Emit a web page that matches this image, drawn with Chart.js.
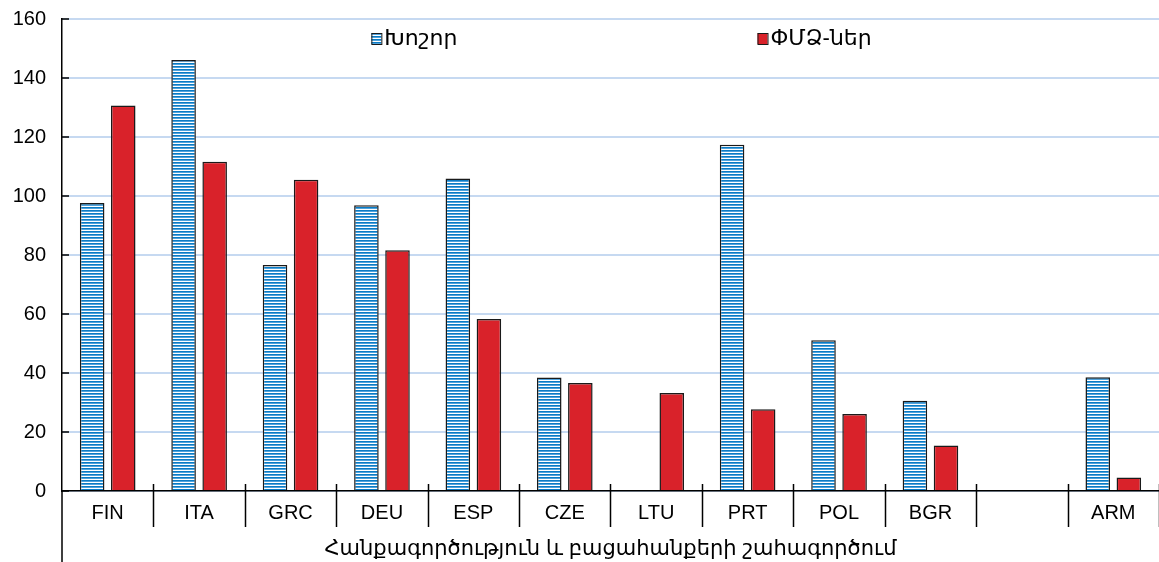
<!DOCTYPE html>
<html>
<head>
<meta charset="utf-8">
<script src="https://cdn.jsdelivr.net/npm/chart.js@4.4.1/dist/chart.umd.min.js"></script>
<style>
  html, body { margin: 0; padding: 0; background: #fff; }
  #wrap { width: 1159px; height: 562px; position: relative; }
</style>
</head>
<body>
<div id="wrap"><canvas id="chart"></canvas></div>
<script>
// Data
const categories = ['FIN', 'ITA', 'GRC', 'DEU', 'ESP', 'CZE', 'LTU', 'PRT', 'POL', 'BGR', '', 'ARM'];
const largeValues = [97.6, 146.1, 76.6, 96.9, 105.9, 38.5, null, 117.4, 51.1, 30.6, null, 38.6];
const smeValues = [130.7, 111.6, 105.5, 81.6, 58.3, 36.6, 33.2, 27.7, 26.1, 15.4, null, 4.6];
const seriesNames = ['Խոշոր', 'ՓՄՁ-ներ'];
const axisTitle = 'Հանքագործություն և բացահանքերի շահագործում';
const yTicks = { min: 0, max: 160, step: 20 };

const FONT = "'Liberation Sans', Arial, 'DejaVu Sans', sans-serif";
const RED = '#d9222a';

// horizontal blue/white stripes for the "large" series
function makeStripes() {
  const c = document.createElement('canvas');
  c.width = 4;
  c.height = 3;
  const g = c.getContext('2d');
  const rows = ['#0a7bc4', '#4fa2dc', '#ffffff'];
  rows.forEach((col, i) => {
    g.fillStyle = col;
    g.fillRect(0, i, 4, 1);
  });
  return g.createPattern(c, 'repeat');
}
const stripes = makeStripes();

// category separators, inner y ticks, axis line running down to the bottom
const axisExtras = {
  id: 'axisExtras',
  afterDraw(chart) {
    const ctx = chart.ctx;
    const area = chart.chartArea;
    const x = chart.scales.x;
    const y = chart.scales.y;
    const half = (x.getPixelForValue(1) - x.getPixelForValue(0)) / 2;
    ctx.save();
    ctx.strokeStyle = '#000';
    ctx.lineWidth = 1.5;
    ctx.beginPath();
    for (let i = 1; i <= categories.length; i++) {
      const px = Math.round(x.getPixelForValue(i) - half) + 0.5;
      ctx.moveTo(px, area.bottom - 7);
      ctx.lineTo(px, area.bottom + 36);
    }
    y.ticks.forEach(t => {
      const py = y.getPixelForValue(t.value);
      ctx.moveTo(area.left, py);
      ctx.lineTo(area.left + 7, py);
    });
    ctx.moveTo(area.left, area.bottom);
    ctx.lineTo(area.left, chart.height);
    ctx.stroke();
    ctx.restore();
  }
};

// legend drawn inside the plot area, items far apart like the original
const innerLegend = {
  id: 'innerLegend',
  afterDraw(chart) {
    const ctx = chart.ctx;
    const area = chart.chartArea;
    const w = area.right - area.left;
    const spots = [0.282, 0.634];
    const fills = [stripes, RED];
    const yMid = area.top + 19;
    ctx.save();
    ctx.font = '22px ' + FONT;
    ctx.textBaseline = 'middle';
    seriesNames.forEach((name, i) => {
      const bx = area.left + w * spots[i];
      ctx.fillStyle = fills[i];
      ctx.fillRect(bx, yMid - 5, 10, 11);
      ctx.strokeStyle = '#1a1a1a';
      ctx.lineWidth = 1;
      ctx.strokeRect(bx + 0.5, yMid - 4.5, 10, 11);
      ctx.fillStyle = '#000';
      ctx.fillText(name, bx + 13, yMid + 1);
    });
    ctx.restore();
  }
};

const ctx = document.getElementById('chart').getContext('2d');
new Chart(ctx, {
  type: 'bar',
  data: {
    labels: categories,
    datasets: [
      {
        label: seriesNames[0],
        data: largeValues,
        backgroundColor: stripes,
        borderColor: '#1a1a1a',
        borderWidth: 1.5,
        categoryPercentage: 0.68,
        barPercentage: 0.79
      },
      {
        label: seriesNames[1],
        data: smeValues,
        backgroundColor: RED,
        borderColor: '#1a1a1a',
        borderWidth: 1.5,
        categoryPercentage: 0.68,
        barPercentage: 0.79
      }
    ]
  },
  options: {
    responsive: true,
    maintainAspectRatio: false,
    animation: false,
    layout: { padding: { top: 19, right: 0, bottom: 0, left: 0 } },
    plugins: {
      legend: { display: false },
      tooltip: { enabled: false }
    },
    scales: {
      x: {
        afterFit(scale) {
          scale.height = 71;
          scale.paddingLeft = 0;
          scale.paddingRight = 0;
        },
        grid: { display: false, drawTicks: false },
        border: { display: true, color: '#000', width: 1.5 },
        ticks: {
          color: '#000',
          font: { family: FONT, size: 20 },
          padding: 10,
          maxRotation: 0,
          autoSkip: false
        },
        title: {
          display: true,
          text: axisTitle,
          color: '#000',
          font: { family: FONT, size: 21 },
          padding: { top: 4, bottom: 0 }
        }
      },
      y: {
        min: yTicks.min,
        max: yTicks.max,
        afterFit(scale) {
          scale.width = 62;
          scale.paddingTop = 0;
          scale.paddingBottom = 0;
        },
        grid: { color: '#c6d9f1', lineWidth: 2, drawTicks: false },
        border: { display: true, color: '#000', width: 1.5 },
        ticks: {
          stepSize: yTicks.step,
          color: '#000',
          font: { family: FONT, size: 20 },
          padding: 16
        }
      }
    }
  },
  plugins: [axisExtras, innerLegend]
});
</script>
</body>
</html>
